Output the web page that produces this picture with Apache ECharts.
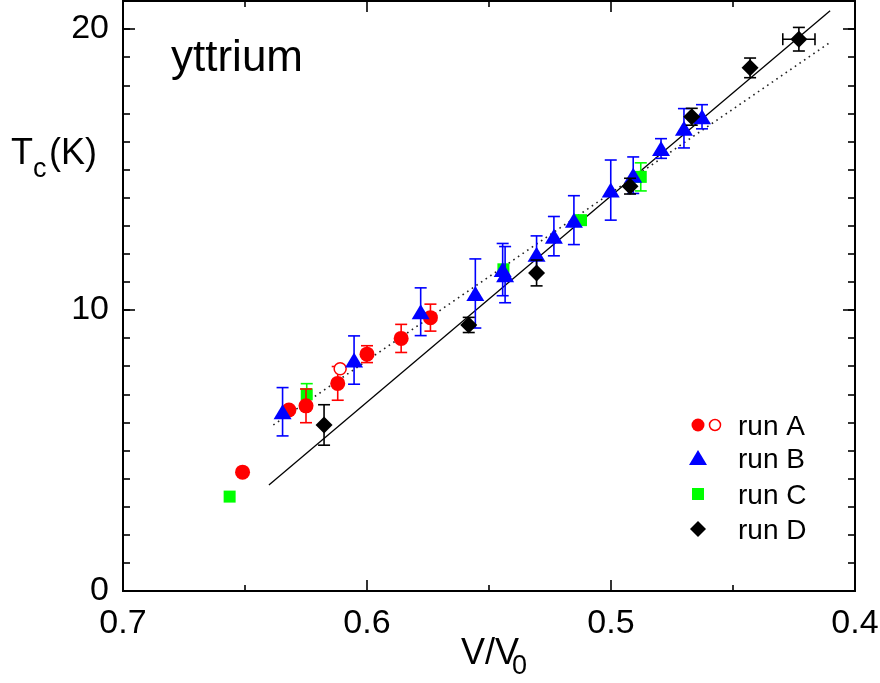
<!DOCTYPE html>
<html>
<head>
<meta charset="utf-8">
<script src="https://cdn.jsdelivr.net/npm/echarts@6/dist/echarts.min.js"></script>
<style>
  html, body { margin: 0; padding: 0; background: #fff; }
  #chart { width: 880px; height: 683px; }
</style>
</head>
<body>
<div id="chart"></div>
<script>
// ---- data ----
const runA_x   = [0.651, 0.632, 0.625, 0.612, 0.600, 0.586, 0.574];
const runA_y   = [4.23, 6.44, 6.59, 7.39, 8.43, 8.99, 9.73];
const runA_err = [0, 0, 0.6, 0.6, 0.3, 0.5, 0.48];

const runAopen_x = [0.611];
const runAopen_y = [7.91];

const runB_x   = [0.6346, 0.6053, 0.578, 0.5556, 0.5444, 0.5434, 0.5305, 0.5234, 0.5152, 0.5001, 0.4909, 0.4795, 0.4701, 0.4627];
const runB_y   = [6.38, 8.22, 9.94, 10.59, 11.44, 11.26, 11.99, 12.63, 13.20, 14.27, 14.80, 15.75, 16.47, 16.88];
const runB_err = [0.86, 0.86, 0.85, 1.23, 0.93, 1.0, 0.65, 0.7, 0.87, 1.07, 0.65, 0.35, 0.7, 0.43];

const runC_x   = [0.6563, 0.6247, 0.5441, 0.5123, 0.4878];
const runC_y   = [3.36, 7.00, 11.45, 13.20, 14.74];
const runC_err = [0, 0.38, 0, 0, 0.5];

const runD_x    = [0.6176, 0.5583, 0.5305, 0.4922, 0.4669, 0.4430, 0.4230];
const runD_y    = [5.91, 9.47, 11.32, 14.41, 16.88, 18.62, 19.64];
const runD_err  = [0.72, 0.27, 0.46, 0.28, 0.3, 0.35, 0.42];
const runD_xerr = [0, 0, 0, 0, 0, 0, 0.0066];

const fitSolid_x  = [0.6402, 0.4102];
const fitSolid_y  = [3.77, 20.65];
const fitDotted_x = [0.6384, 0.4105];
const fitDotted_y = [5.91, 19.51];

const xTicks = [0.7, 0.6, 0.5, 0.4];
const yTicks = [0, 10, 20];
const legendLabels = ['run A', 'run B', 'run C', 'run D'];

// ---- helpers ----
const FONT = '"Liberation Sans", Arial, Helvetica, sans-serif';
function pts(xs, ys) { return xs.map((x, i) => [x, ys[i]]); }
function errRows(xs, ys, es, xes) {
  return xs.map((x, i) => [x, ys[i], es[i] || 0, (xes && xes[i]) || 0]);
}
function errSeries(rows, color, z) {
  return {
    type: 'custom', z: z, silent: true,
    data: rows,
    renderItem: function (params, api) {
      const x = api.value(0), y = api.value(1), e = api.value(2), xe = api.value(3);
      const children = [];
      const cap = 6;
      const st = { stroke: color, lineWidth: 1.6 };
      if (e > 0) {
        const t = api.coord([x, y + e]);
        const b = api.coord([x, y - e]);
        children.push({ type: 'line', shape: { x1: t[0], y1: t[1], x2: b[0], y2: b[1] }, style: st });
        children.push({ type: 'line', shape: { x1: t[0] - cap, y1: t[1], x2: t[0] + cap, y2: t[1] }, style: st });
        children.push({ type: 'line', shape: { x1: b[0] - cap, y1: b[1], x2: b[0] + cap, y2: b[1] }, style: st });
      }
      if (xe > 0) {
        const l = api.coord([x + xe, y]);
        const r = api.coord([x - xe, y]);
        children.push({ type: 'line', shape: { x1: l[0], y1: l[1], x2: r[0], y2: r[1] }, style: st });
        children.push({ type: 'line', shape: { x1: l[0], y1: l[1] - cap, x2: l[0], y2: l[1] + cap }, style: st });
        children.push({ type: 'line', shape: { x1: r[0], y1: r[1] - cap, x2: r[0], y2: r[1] + cap }, style: st });
      }
      return { type: 'group', children: children };
    }
  };
}

const axisLineStyle = { color: '#000', width: 2 };
function xAxisDef(pos, labels) {
  return {
    type: 'value', position: pos, min: 0.4, max: 0.7, interval: 0.1, inverse: true,
    axisLine: { show: true, onZero: false, lineStyle: axisLineStyle },
    axisTick: { show: true, inside: true, length: 11, lineStyle: { color: '#000', width: 1.6 } },
    minorTick: { show: true, splitNumber: 2, length: 6, lineStyle: { color: '#000', width: 1.6 } },
    splitLine: { show: false }, minorSplitLine: { show: false },
    axisLabel: labels ? {
      show: true, margin: 16, color: '#000', fontSize: 34, fontFamily: FONT,
      showMinLabel: true, showMaxLabel: true,
      formatter: function (v) {
        const r = Math.round(v * 10) / 10;
        return xTicks.indexOf(r) >= 0 ? r.toFixed(1) : '';
      }
    } : { show: false }
  };
}
function yAxisDef(pos, interval, tickLen, labels) {
  return {
    type: 'value', position: pos, min: 0, max: 21, interval: interval,
    axisLine: { show: true, onZero: false, lineStyle: axisLineStyle },
    axisTick: { show: true, inside: true, length: tickLen, lineStyle: { color: '#000', width: 1.6 } },
    splitLine: { show: false },
    axisLabel: labels ? {
      show: true, margin: 14, color: '#000', fontSize: 34, fontFamily: FONT,
      showMinLabel: true, showMaxLabel: true,
      formatter: function (v) { return yTicks.indexOf(v) >= 0 ? String(v) : ''; }
    } : { show: false }
  };
}

// ---- legend graphics ----
const legX = 698, legTextX = 738;
const legY = [425, 458, 494, 529];
const legendGraphics = [
  { type: 'circle', shape: { cx: legX, cy: legY[0], r: 6.5 }, style: { fill: '#ff0000' } },
  { type: 'circle', shape: { cx: legX + 17, cy: legY[0], r: 5.5 }, style: { fill: '#fff', stroke: '#ff0000', lineWidth: 1.5 } },
  { type: 'polygon', shape: { points: [[legX, legY[1] - 8], [legX - 9, legY[1] + 7], [legX + 9, legY[1] + 7]] }, style: { fill: '#0000ff' } },
  { type: 'rect', shape: { x: legX - 6, y: legY[2] - 6, width: 12, height: 12 }, style: { fill: '#00ff00' } },
  { type: 'polygon', shape: { points: [[legX, legY[3] - 8], [legX + 8, legY[3]], [legX, legY[3] + 8], [legX - 8, legY[3]]] }, style: { fill: '#000' } }
];
legendLabels.forEach((t, i) => {
  legendGraphics.push({
    type: 'text', left: legTextX, top: legY[i] - 12,
    style: { text: t, fontSize: 28, fontFamily: FONT, fill: '#000' }
  });
});

const opaque = { opacity: 1 };
const option = {
  backgroundColor: '#fff',
  animation: false,
  grid: { left: 123, right: 25, top: 1, bottom: 92, containLabel: false, outerBoundsMode: 'none' },
  xAxis: [xAxisDef('bottom', true), xAxisDef('top', false)],
  yAxis: [
    yAxisDef('left', 10, 12, true),
    yAxisDef('left', 1, 7, false),
    yAxisDef('right', 10, 12, false),
    yAxisDef('right', 1, 7, false)
  ],
  series: [
    { type: 'line', data: pts(fitSolid_x, fitSolid_y), symbol: 'none', z: 1,
      lineStyle: { color: '#000', width: 1.3 } },
    { type: 'line', data: pts(fitDotted_x, fitDotted_y), symbol: 'none', z: 1,
      lineStyle: { color: '#222', width: 1.6, type: [1.6, 4] } },

    errSeries(errRows(runC_x, runC_y, runC_err), '#00ff00', 2),
    { name: 'run C', type: 'scatter', data: pts(runC_x, runC_y), symbol: 'rect', symbolSize: 12, z: 3,
      itemStyle: Object.assign({ color: '#00ff00' }, opaque) },

    errSeries(errRows(runA_x, runA_y, runA_err), '#ff0000', 4),
    { name: 'run A', type: 'scatter', data: pts(runA_x, runA_y), symbol: 'circle', symbolSize: 15, z: 5,
      itemStyle: Object.assign({ color: '#ff0000' }, opaque) },
    { name: 'run A open', type: 'scatter', data: pts(runAopen_x, runAopen_y), symbol: 'circle', symbolSize: 12, z: 5,
      itemStyle: Object.assign({ color: '#fff', borderColor: '#ff0000', borderWidth: 1.5 }, opaque) },

    errSeries(errRows(runB_x, runB_y, runB_err), '#0000ff', 6),
    { name: 'run B', type: 'scatter', data: pts(runB_x, runB_y), symbol: 'triangle', symbolSize: [18, 15], z: 7,
      itemStyle: Object.assign({ color: '#0000ff' }, opaque) },

    errSeries(errRows(runD_x, runD_y, runD_err, runD_xerr), '#000000', 8),
    { name: 'run D', type: 'scatter', data: pts(runD_x, runD_y), symbol: 'diamond', symbolSize: 17, z: 9,
      itemStyle: Object.assign({ color: '#000' }, opaque) }
  ],
  graphic: [
    { type: 'text', left: 171, top: 37, style: { text: 'yttrium', fontSize: 44, fontFamily: FONT, fill: '#000' } },
    { type: 'text', left: 11, top: 136, style: { text: 'T', fontSize: 36, fontFamily: FONT, fill: '#000' } },
    { type: 'text', left: 33, top: 156, style: { text: 'c', fontSize: 27, fontFamily: FONT, fill: '#000' } },
    { type: 'text', left: 49, top: 136, style: { text: '(K)', fontSize: 36, fontFamily: FONT, fill: '#000' } },
    { type: 'text', left: 461, top: 636, style: { text: 'V/V', fontSize: 36, fontFamily: FONT, fill: '#000' } },
    { type: 'text', left: 512, top: 653, style: { text: '0', fontSize: 27, fontFamily: FONT, fill: '#000' } }
  ].concat(legendGraphics)
};

const chart = echarts.init(document.getElementById('chart'), null, { renderer: 'canvas' });
chart.setOption(option);
</script>
</body>
</html>
